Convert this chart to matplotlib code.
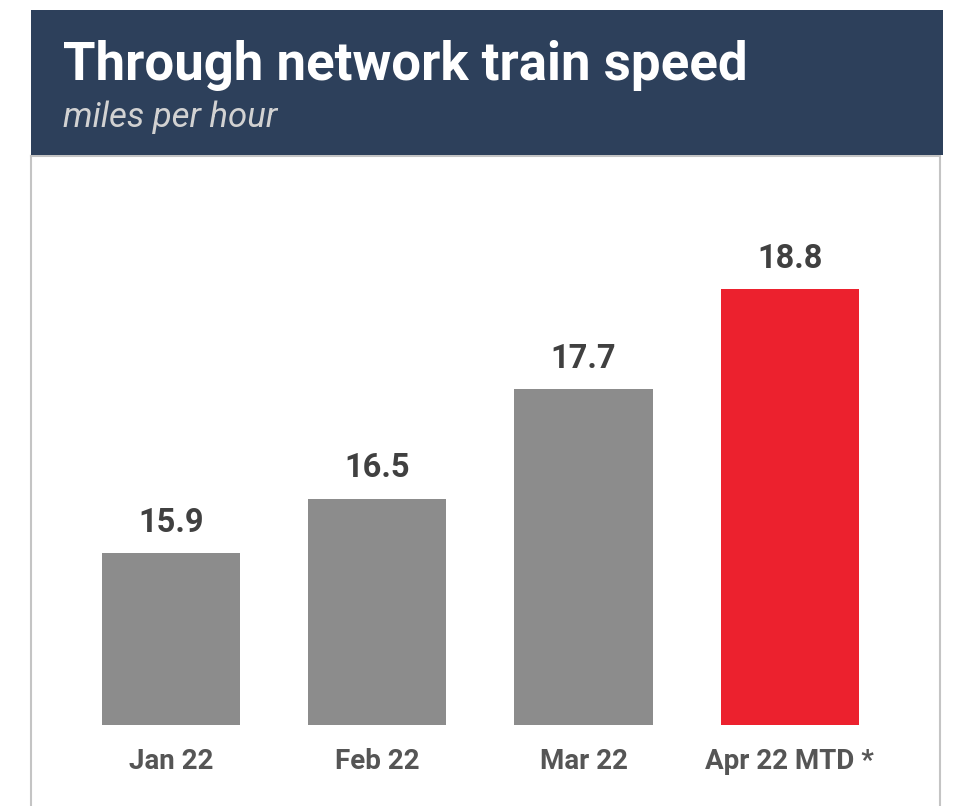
import matplotlib.pyplot as plt
from matplotlib.patches import Rectangle

months = ['Jan 22', 'Feb 22', 'Mar 22', 'Apr 22 MTD *']
speeds = [15.9, 16.5, 17.7, 18.8]
bar_colors = ['#8c8c8c', '#8c8c8c', '#8c8c8c', '#ec212e']

base = 14.02

fig = plt.figure(figsize=(9.54, 8.06), dpi=100)
W, H = 954, 806

# header band
fig.patches.append(Rectangle((31 / W, 1 - 155 / H), (943 - 31) / W, (155 - 10) / H,
                             transform=fig.transFigure, facecolor='#2d405b',
                             edgecolor='none', zorder=0))
fig.text(63 / W, 1 - 80 / H, 'Through network train speed', family='Roboto',
         weight='bold', size=38, color='white', va='baseline')
fig.text(63 / W, 1 - 127 / H, 'miles per hour', family='Roboto', style='italic',
         size=25, color='#d2d2d2', va='baseline')

ax = fig.add_axes([31 / W, 0, (940 - 31) / W, (806 - 156) / H])
x = list(range(len(months)))
heights = [v - base for v in speeds]
ax.bar(x, heights, bottom=base, width=0.67, color=bar_colors)
for xi, v in zip(x, speeds):
    ax.text(xi, v + 0.16, f'{v}', ha='center', va='bottom', family='Roboto',
            weight='bold', size=23.5, color='#404040')

ax.set_xlim(-0.679, 3.728)
ax.set_ylim(13.13, 20.26)
ax.set_yticks([])
ax.set_xticks([])
for xi, lab in zip(x, months):
    ax.text(xi, 13.615, lab, ha='center', va='center', family='Roboto',
            weight='bold', size=20, color='#555555')

for side in ['left', 'right', 'top']:
    ax.spines[side].set_color('#c4c4c4')
    ax.spines[side].set_linewidth(1.5)
ax.spines['bottom'].set_visible(False)

fig.savefig('out.png', dpi=100)
